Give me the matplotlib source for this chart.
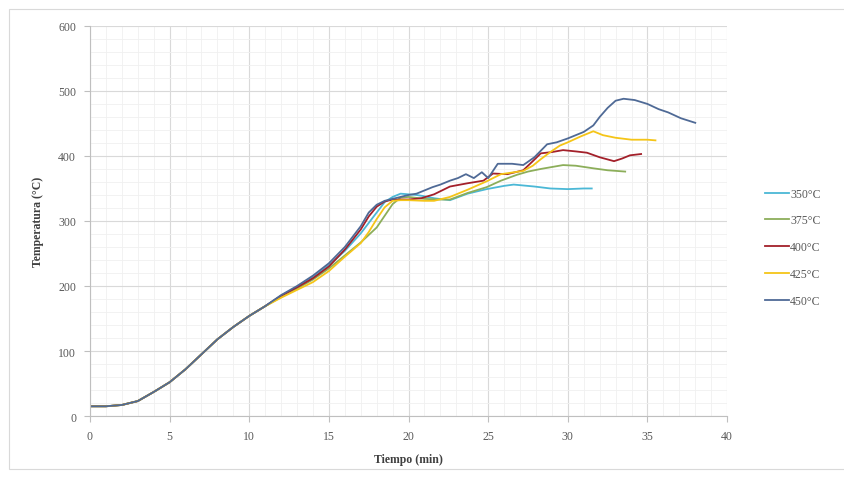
import matplotlib.pyplot as plt
from matplotlib.patches import Rectangle
from matplotlib.ticker import MultipleLocator

plt.rcParams['font.family'] = ['Liberation Serif', 'DejaVu Serif']

# tramo común (calentamiento inicial)
t_base = [0, 1, 2, 3, 4, 5, 6, 7, 8, 9, 10, 11]
T_base = [15, 15, 17, 23, 37, 52, 72, 95, 118, 137, 154, 169]

# 350 °C
t_350 = [12, 13, 14, 15, 16, 17, 18, 18.5, 19, 19.5, 20, 20.5, 21, 21.6, 22.6, 23.7, 24.9,
         26, 26.6, 27.9, 28.9, 30, 31, 31.5]
T_350 = [185, 199, 214, 232, 254, 281, 313, 329, 337, 342, 341, 340, 338, 335, 332, 342, 349,
         354, 356, 353, 350, 349, 350, 350]

# 375 °C
t_375 = [12, 13, 14, 15, 16, 17, 18, 18.5, 19, 19.5, 20, 21, 22, 22.6, 23.7, 24.9, 25.8,
         26.8, 27.5, 28.3, 29, 29.7, 30.5, 31.6, 32.5, 33.6]
T_375 = [183, 196, 210, 227, 247, 267, 290, 308, 326, 336, 337, 334, 333, 333, 343, 352, 362,
         371, 376, 380, 383, 386, 385, 381, 378, 376]

# 400 °C
t_400 = [12, 13, 14, 15, 16, 17, 17.5, 18, 18.5, 19, 19.5, 20, 20.8, 21.6, 22.6, 23.7, 24.7,
         25.3, 26.2, 27.2, 27.8, 28.3, 29, 29.7, 30.5, 31.2, 32, 32.9, 33.4, 33.9, 34.6]
T_400 = [185, 198, 212, 230, 256, 287, 307, 322, 330, 333, 333, 333, 335, 341, 353, 358, 362,
         373, 372, 378, 392, 404, 406, 409, 407, 405, 398, 392, 396, 401, 403]

# 425 °C
t_425 = [12, 13, 14, 15, 16, 17, 17.5, 18, 18.5, 19, 19.5, 20, 21, 21.6, 22.6, 23.7, 24.9,
         25.8, 27.2, 27.8, 28.3, 28.9, 29.5, 30, 30.8, 31.6, 32.2, 33, 34, 35, 35.5]
T_425 = [182, 194, 206, 223, 245, 266, 283, 303, 321, 331, 332, 332, 331, 331, 337, 348, 361,
         372, 377, 385, 395, 406, 416, 421, 430, 438, 432, 428, 425, 425, 424]

# 450 °C
t_450 = [12, 13, 14, 15, 16, 17, 17.5, 18, 18.5, 19, 19.5, 20, 20.5, 21, 21.5, 22, 22.6, 23.1,
         23.6, 24.1, 24.6, 25.0, 25.6, 26.5, 27.2, 27.9, 28.7, 29.3, 30, 31, 31.6, 32, 32.5,
         33, 33.5, 34.2, 35, 35.7, 36.3, 37.1, 38]
T_450 = [186, 200, 216, 235, 260, 292, 313, 325, 331, 334, 337, 340, 342, 347, 352, 356, 362, 366,
         372, 366, 375, 366, 388, 388, 386, 398, 418, 421, 427, 437, 447, 460, 474,
         485, 488, 486, 480, 472, 467, 458, 451]

series = [
    ('350°C', t_350, T_350, '#4bb8d6'),
    ('375°C', t_375, T_375, '#8cae5a'),
    ('400°C', t_400, T_400, '#a3202a'),
    ('425°C', t_425, T_425, '#f5c518'),
    ('450°C', t_450, T_450, '#4f6a96'),
]

fig = plt.figure(figsize=(8.45, 4.81), dpi=100)
ax = fig.add_axes([0.1065, 0.133, 0.754, 0.811])

# marco exterior del gráfico
fig.patches.append(Rectangle((0.011, 0.022), 0.989, 0.958, transform=fig.transFigure,
                             fill=False, edgecolor='#d9d9d9', linewidth=0.8))

for label, t, T, color in series:
    ax.plot(t_base + t, T_base + T, color=color, linewidth=1.3, label=label)

ax.set_xlim(0, 40)
ax.set_ylim(0, 600)
ax.xaxis.set_major_locator(MultipleLocator(5))
ax.xaxis.set_minor_locator(MultipleLocator(1))
ax.yaxis.set_major_locator(MultipleLocator(100))
ax.yaxis.set_minor_locator(MultipleLocator(20))
ax.grid(which='major', color='#d9d9d9', linewidth=0.8)
ax.grid(which='minor', color='#f0f0f0', linewidth=0.6)
ax.set_axisbelow(True)

for s in ['top', 'right']:
    ax.spines[s].set_visible(False)
for s in ['left', 'bottom']:
    ax.spines[s].set_color('#bfbfbf')
    ax.spines[s].set_linewidth(0.8)

ax.tick_params(which='major', length=4, color='#bfbfbf', labelsize=8.5,
               labelcolor='#595959', pad=6)
ax.tick_params(which='minor', length=0)

ax.set_xlabel('Tiempo (min)', fontsize=8.5, fontweight='bold', color='#404040', labelpad=8)
ax.set_ylabel('Temperatura (°C)', fontsize=8.5, fontweight='bold', color='#404040', labelpad=10)

leg = fig.legend(loc='center left', bbox_to_anchor=(0.893, 0.484), frameon=False,
                 fontsize=8.5, labelspacing=1.25, handlelength=2.0, handletextpad=0.1)
for txt in leg.get_texts():
    txt.set_color('#595959')

fig.savefig('out.png', dpi=100)
